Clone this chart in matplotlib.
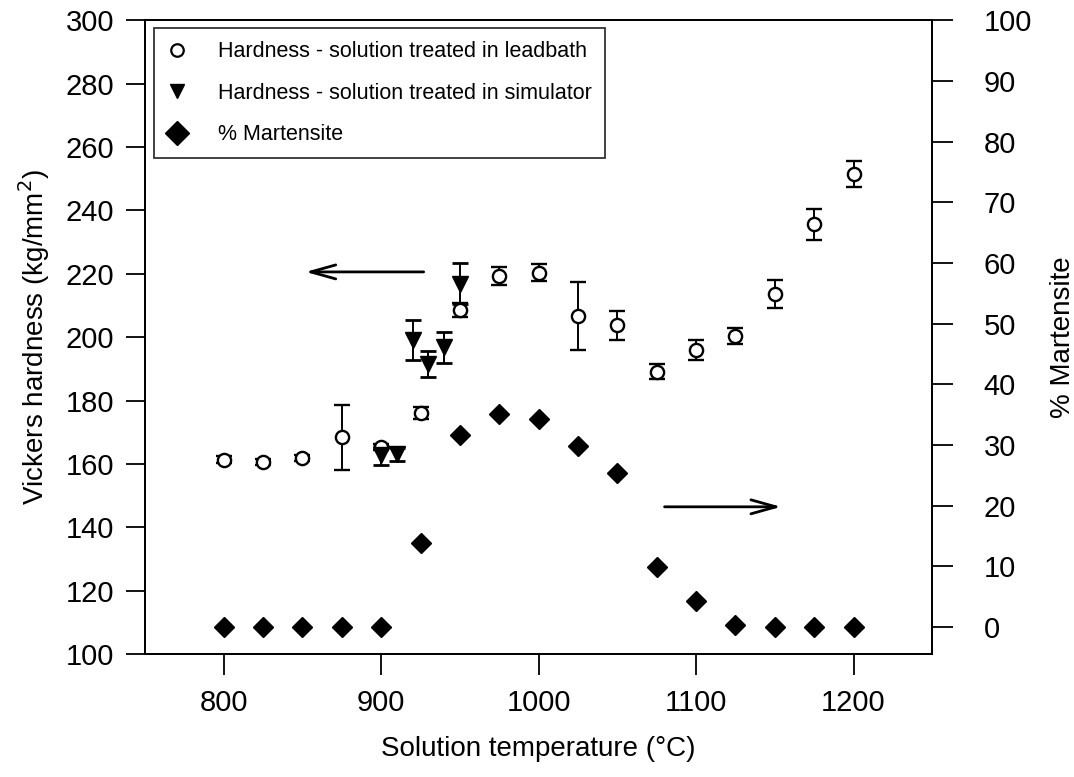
import matplotlib
matplotlib.use('Agg')
import matplotlib.pyplot as plt
from matplotlib.lines import Line2D

plt.rcParams['font.family'] = ['Liberation Sans', 'DejaVu Sans']

# hardness, solution treated in lead bath
lead_temp = [800, 825, 850, 875, 900, 925, 950, 975, 1000, 1025, 1050, 1075, 1100, 1125, 1150, 1175, 1200]
lead_hv   = [161.4, 160.7, 162.0, 168.4, 165.4, 176.2, 208.5, 219.2, 220.4, 206.6, 203.7, 189.1,
             195.9, 200.3, 213.6, 235.6, 251.4]
lead_err  = [1.0, 1.0, 1.0, 10.2, 1.0, 1.9, 2.2, 2.8, 2.6, 10.7, 4.5, 2.4, 3.2, 2.5, 4.4, 4.8, 4.1]

# hardness, solution treated in simulator
sim_temp = [900, 910, 920, 930, 940, 950]
sim_hv   = [162.8, 163.1, 199.1, 191.7, 196.9, 216.9]
sim_err  = [3.0, 2.1, 6.2, 4.1, 4.9, 6.4]

# % martensite
mart_temp = [800, 825, 850, 875, 900, 925, 950, 975, 1000, 1025, 1050, 1075, 1100, 1125, 1150, 1175, 1200]
mart_pct  = [0, 0, 0, 0, 0, 13.8, 31.7, 35.1, 34.3, 29.8, 25.3, 9.9, 4.2, 0.4, 0, 0, 0]

labels = ['Hardness - solution treated in leadbath',
          'Hardness - solution treated in simulator',
          '% Martensite']

fig = plt.figure(figsize=(10.74, 7.77), dpi=100)
ax = fig.add_axes([0.135, 0.158, 0.733, 0.816])
ax2 = ax.twinx()

ax.errorbar(lead_temp, lead_hv, yerr=lead_err, fmt='o', ms=9.5, mfc='white', mec='black',
            mew=1.7, ecolor='black', elinewidth=1.4, capsize=6, capthick=2.0, zorder=3)
ax.errorbar(sim_temp, sim_hv, yerr=sim_err, fmt='v', ms=11, mfc='black', mec='black',
            ecolor='black', elinewidth=1.4, capsize=6, capthick=2.0, zorder=3)
ax2.plot(mart_temp, mart_pct, 'D', ms=10, color='black')

# direction arrows
arrow = dict(arrowstyle='->,head_length=1.0,head_width=0.28', lw=2.0, color='black',
             mutation_scale=18, shrinkA=0, shrinkB=0)
ax.annotate('', xy=(852, 220.6), xytext=(927, 220.6), arrowprops=arrow)
ax.annotate('', xy=(1154, 146.5), xytext=(1080, 146.5), arrowprops=arrow)

ax.set_xlim(750, 1250)
ax.set_ylim(100, 300)
ax2.set_ylim(-4.5, 100)
ax.set_xticks([800, 900, 1000, 1100, 1200])
ax.set_yticks(range(100, 301, 20))
ax2.set_yticks(range(0, 101, 10))

ax.tick_params(axis='x', direction='out', length=15, width=1.3, labelsize=21, pad=10)
ax.tick_params(axis='y', direction='out', length=14, width=1.3, labelsize=21, pad=8)
ax2.tick_params(axis='y', direction='out', length=15, width=1.3, labelsize=21, pad=22)
for a in (ax, ax2):
    for s in a.spines.values():
        s.set_linewidth(1.3)

ax.set_xlabel('Solution temperature (°C)', fontsize=20, labelpad=14)
ax.set_ylabel('Vickers hardness (kg/mm$^2$)', fontsize=20, labelpad=10)
ax2.set_ylabel('% Martensite', fontsize=20, labelpad=13)

handles = [Line2D([], [], ls='none', marker='o', ms=9, mfc='white', mec='black', mew=1.6),
           Line2D([], [], ls='none', marker='v', ms=10, color='black'),
           Line2D([], [], ls='none', marker='D', ms=12, color='black')]
leg = ax.legend(handles, labels, loc='upper left', bbox_to_anchor=(0.011, 0.987),
                fontsize=15.5, frameon=True, fancybox=False, edgecolor='black',
                borderaxespad=0, handlelength=1.0, handletextpad=1.4,
                labelspacing=0.95, borderpad=0.6)
leg.get_frame().set_linewidth(1.3)

fig.savefig('out.png', dpi=100)
